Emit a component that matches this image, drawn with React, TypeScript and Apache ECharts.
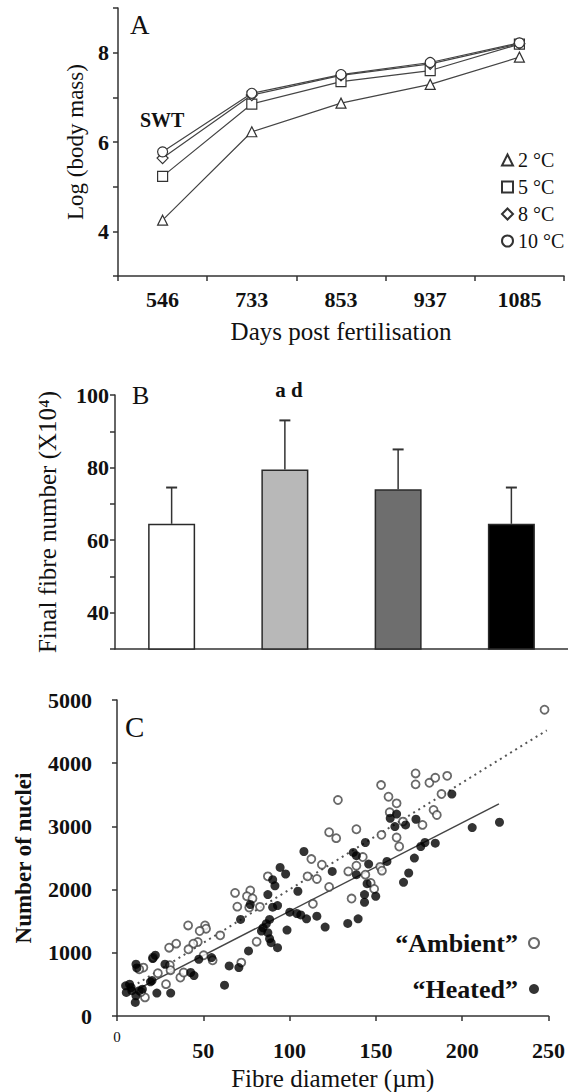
import React, { useEffect, useRef } from 'react';
import * as echarts from 'echarts';

// Panel A
const daysA = ['546', '733', '853', '937', '1085'];
const tempNames = ['2 °C', '5 °C', '8 °C', '10 °C'];
const mass2 = [4.25, 6.23, 6.87, 7.29, 7.9];
const mass5 = [5.23, 6.85, 7.35, 7.6, 8.19];
const mass8 = [5.64, 7.05, 7.49, 7.75, 8.2];
const mass10 = [5.78, 7.09, 7.51, 7.78, 8.22];
const tempSymbols = ['triangle', 'rect', 'diamond', 'circle'];

// Panel B
const groupsB = ['G1', 'G2', 'G3', 'G4'];
const fibreMean = [64.5, 79.5, 74, 64.5];
const fibreUpper = [74.5, 93, 85, 74.5];
const barColors = ['#ffffff', '#b8b8b8', '#6e6e6e', '#000000'];

// Panel C
const ambient = [
  [247.7, 4846], [173, 3838], [173, 3665], [181, 3690], [184.4, 3769], [191.3, 3800], [188, 3512],
  [183.4, 3260], [185.3, 3181], [177, 3024], [165.7, 3076], [162, 2824], [163.5, 2682], [162, 3365],
  [157.3, 3470], [153, 3654], [128, 3417], [158, 3223], [153.2, 2866], [122.9, 2908], [127, 2814],
  [138.7, 2955], [142.4, 2515], [112.6, 2483], [118.7, 2394], [138.7, 2378], [134, 2288],
  [143.9, 2236], [110.4, 2210], [115.8, 2168], [122.9, 2043], [152.5, 2360], [153.5, 2300],
  [147, 2105], [149, 2011], [135.9, 1858], [113.5, 1775], [87.4, 2210], [77.2, 1985], [75.3, 1895],
  [78.5, 1860], [68.4, 1948], [69.7, 1730], [76.6, 1717], [82.8, 1727], [80.9, 1176], [72, 845],
  [59.8, 1276], [51, 1433], [51.6, 1381], [47.9, 1344], [41.2, 1433], [46.8, 1170], [44.2, 1145],
  [41.4, 1055], [34.3, 1145], [30.2, 1081], [20.9, 924], [30.6, 803], [23.7, 677], [15.3, 766],
  [12.9, 740], [28.4, 504], [36.7, 609], [38.6, 688], [55.4, 882], [50.2, 961], [16.2, 294],
  [14, 380], [31, 725],
];
const heated = [
  [194, 3512], [221.6, 3066], [205.8, 2982], [162, 3195], [158.3, 3129], [173.2, 3113], [167.2, 3024],
  [161, 2997], [184.4, 2735], [178.4, 2745], [176, 2682], [172.3, 2499], [169, 2263], [166, 2115],
  [156.4, 2446], [143.9, 2745], [136.9, 2588], [138.7, 2536], [145.8, 2404], [138.7, 2236],
  [144.9, 2094], [143.4, 1921], [149.9, 1895], [143.4, 1800], [139.7, 1538], [133.7, 1465],
  [124.7, 2288], [120.6, 1407], [115.8, 1580], [109.8, 1538], [106.5, 1600], [104.2, 1622],
  [100.1, 1643], [104.8, 1974], [108.3, 2603], [94.5, 2351], [97.7, 2247], [90.2, 2157], [91.5, 2060],
  [87.4, 1921], [93, 1748], [90.2, 1722], [77.2, 1764], [71.6, 1528], [88.4, 1528], [86.5, 1460],
  [84.6, 1395], [83.7, 1344], [87.4, 1318], [88.4, 1224], [89.3, 1160], [93, 1081], [98.5, 1360],
  [76.2, 1029], [65, 793], [70.6, 767], [62.3, 488], [47.4, 898], [54.8, 924], [42.7, 688],
  [44.6, 640], [27.8, 819], [22.2, 961], [20.7, 908], [11, 819], [11.5, 760], [19.4, 540],
  [20.3, 560], [23.1, 362], [31.1, 362], [5, 478], [8.2, 451], [5.4, 373], [8.6, 400], [11, 320],
  [10.6, 215], [12.9, 400], [7.3, 504], [14.7, 425],
];
const ambientFit = [[12, 515], [249, 4520]];
const heatedFit = [[12, 426], [221.3, 3356]];
const seriesNamesC = ['\u201cAmbient\u201d', '\u201cHeated\u201d'];

const FONT = '"Liberation Serif", "DejaVu Serif", serif';
const INK = '#111111';
const AXIS = '#333';

export default function App() {
  const ref = useRef<HTMLDivElement>(null);

  useEffect(() => {
    if (!ref.current) return;
    const chart = echarts.init(ref.current, null, { renderer: 'svg' });
    const massSeries = [mass2, mass5, mass8, mass10];

    const axisLine = { lineStyle: { color: AXIS, width: 1.5 } };
    const tickOut = { show: true, length: 5, lineStyle: { color: AXIS, width: 1.5 } };
    const tickLabel = { fontFamily: FONT, fontSize: 22, fontWeight: 'bold', color: INK };

    const option: any = {
      animation: false,
      backgroundColor: '#ffffff',
      grid: [
        { left: 118, top: 8, width: 446, height: 268 },
        { left: 115, top: 395, width: 460, height: 254 },
        { left: 117, top: 700, width: 447, height: 317 },
      ],
      xAxis: [
        {
          type: 'category', gridIndex: 0, data: daysA, boundaryGap: true,
          axisLine, axisTick: { ...tickOut, interval: 0 },
          axisLabel: { ...tickLabel, margin: 12, interval: 0 },
          name: 'Days post fertilisation', nameLocation: 'middle', nameGap: 43,
          nameTextStyle: { fontFamily: FONT, fontSize: 25, color: INK },
          splitLine: { show: false },
        },
        {
          type: 'category', gridIndex: 1, data: groupsB, boundaryGap: true,
          axisLine, axisTick: { show: false }, axisLabel: { show: false },
          splitLine: { show: false },
        },
        {
          type: 'value', gridIndex: 2, min: 0, max: 250, interval: 50,
          axisLine: { ...axisLine, onZero: false }, axisTick: tickOut,
          axisLabel: {
            margin: 13, showMinLabel: true, hideOverlap: false,
            formatter: (v: number) => (v === 0 ? '{s|0}' : '{b|' + v + '}'),
            rich: {
              s: { fontFamily: FONT, fontSize: 15, color: INK },
              b: { fontFamily: FONT, fontSize: 22, fontWeight: 'bold', color: INK, padding: [10, 0, 0, 0] },
            },
          },
          name: 'Fibre diameter (\u00b5m)', nameLocation: 'middle', nameGap: 50,
          nameTextStyle: { fontFamily: FONT, fontSize: 25, color: INK },
          splitLine: { show: false },
        },
      ],
      yAxis: [
        {
          type: 'value', gridIndex: 0, min: 3, max: 9, interval: 1,
          axisLine: { show: true, ...axisLine }, axisTick: tickOut,
          axisLabel: {
            ...tickLabel, margin: 9,
            formatter: (v: number) => (v % 2 === 0 && v >= 4 && v <= 8 ? String(v) : ''),
          },
          name: 'Log (body mass)', nameLocation: 'middle', nameGap: 30,
          nameTextStyle: { fontFamily: FONT, fontSize: 23, color: INK },
          splitLine: { show: false },
        },
        {
          type: 'value', gridIndex: 1, min: 30, max: 100, interval: 10,
          axisLine: { show: true, ...axisLine }, axisTick: tickOut,
          axisLabel: {
            ...tickLabel, margin: 6,
            formatter: (v: number) => (v % 20 === 0 && v >= 40 ? String(v) : ''),
          },
          name: 'Final fibre number (X10\u2074)', nameLocation: 'middle', nameGap: 55,
          nameTextStyle: { fontFamily: FONT, fontSize: 25, color: INK },
          splitLine: { show: false },
        },
        {
          type: 'value', gridIndex: 2, min: 0, max: 5000, interval: 1000, offset: 4,
          axisLine: { show: true, ...axisLine }, axisTick: tickOut,
          axisLabel: { ...tickLabel, margin: 21, formatter: (v: number) => String(v) },
          name: 'Number of nuclei', nameLocation: 'middle', nameGap: 78,
          nameTextStyle: { fontFamily: FONT, fontSize: 23, fontWeight: 'bold', color: INK },
          splitLine: { show: false },
        },
      ],
      legend: [
        {
          orient: 'vertical', left: 496, top: 145, itemWidth: 11, itemHeight: 11, itemGap: 7,
          selectedMode: false,
          data: tempNames.map((n, i) => ({ name: n, icon: tempSymbols[i] })),
          textStyle: { fontFamily: FONT, fontSize: 20, color: INK, lineHeight: 20 },
        },
        {
          orient: 'vertical', align: 'right', right: 23, top: 925, itemWidth: 10, itemHeight: 10,
          itemGap: 20, selectedMode: false,
          data: seriesNamesC.map((n) => ({ name: n, icon: 'circle' })),
          textStyle: { fontFamily: FONT, fontSize: 26, fontWeight: 'bold', color: INK, lineHeight: 25, padding: [0, 6, 0, 0] },
        },
      ],
      graphic: [
        { type: 'text', x: 130, y: 25, style: { text: 'A', font: '27px ' + FONT, fill: INK, verticalAlign: 'middle' } },
        { type: 'text', x: 140, y: 120, style: { text: 'SWT', font: 'bold 20px ' + FONT, fill: INK, verticalAlign: 'middle' } },
        { type: 'text', x: 132, y: 395, style: { text: 'B', font: '26px ' + FONT, fill: INK, verticalAlign: 'middle' } },
        { type: 'text', x: 289, y: 390, style: { text: 'a d', font: 'bold 21px ' + FONT, fill: INK, align: 'center', verticalAlign: 'middle' } },
        { type: 'text', x: 125, y: 727, style: { text: 'C', font: '29px ' + FONT, fill: INK, verticalAlign: 'middle' } },
      ],
      series: [
        ...tempNames.map((n, i) => ({
          name: n, type: 'line', xAxisIndex: 0, yAxisIndex: 0, data: massSeries[i],
          symbol: tempSymbols[i], symbolSize: i === 2 ? 11 : 10, showSymbol: true,
          lineStyle: { color: '#444', width: 1.2 },
          itemStyle: { color: '#ffffff', borderColor: '#333', borderWidth: 1.2 },
          z: 2 + i,
        })),
        {
          name: 'fibre', type: 'bar', xAxisIndex: 1, yAxisIndex: 1, barWidth: 47,
          data: fibreMean.map((v, i) => ({ value: v, itemStyle: { color: barColors[i] } })),
          itemStyle: { borderColor: '#2a2a2a', borderWidth: 1.5 },
        },
        {
          name: 'fibreErr', type: 'custom', xAxisIndex: 1, yAxisIndex: 1,
          data: fibreMean.map((v, i) => [i, v, fibreUpper[i]]),
          renderItem: (_p: any, api: any) => {
            const x = api.value(0);
            const lo = api.coord([x, api.value(1)]);
            const hi = api.coord([x, api.value(2)]);
            return {
              type: 'group',
              children: [
                { type: 'line', shape: { x1: lo[0], y1: lo[1], x2: hi[0], y2: hi[1] }, style: { stroke: '#333', lineWidth: 1.5 } },
                { type: 'line', shape: { x1: hi[0] - 5.5, y1: hi[1], x2: hi[0] + 5.5, y2: hi[1] }, style: { stroke: '#333', lineWidth: 2 } },
              ],
            };
          },
          z: 3,
        },
        {
          name: 'ambientFit', type: 'line', xAxisIndex: 2, yAxisIndex: 2, data: ambientFit,
          symbol: 'none', lineStyle: { color: '#555', width: 2, type: [2, 4] }, z: 1,
        },
        {
          name: 'heatedFit', type: 'line', xAxisIndex: 2, yAxisIndex: 2, data: heatedFit,
          symbol: 'none', lineStyle: { color: '#444', width: 1.5 }, z: 1,
        },
        {
          name: seriesNamesC[0], type: 'scatter', xAxisIndex: 2, yAxisIndex: 2, data: ambient,
          symbol: 'circle', symbolSize: 8,
          itemStyle: { color: '#ffffff', borderColor: '#444', borderWidth: 1.8 }, z: 3,
        },
        {
          name: seriesNamesC[1], type: 'scatter', xAxisIndex: 2, yAxisIndex: 2, data: heated,
          symbol: 'circle', symbolSize: 9,
          itemStyle: { color: '#000000' }, z: 4,
        },
      ],
    };
    chart.setOption(option);
    return () => chart.dispose();
  }, []);

  return (
    <div
      ref={ref}
      style={{ position: 'absolute', left: 0, top: 0, width: 568, height: 1092, background: '#fff' }}
    />
  );
}
